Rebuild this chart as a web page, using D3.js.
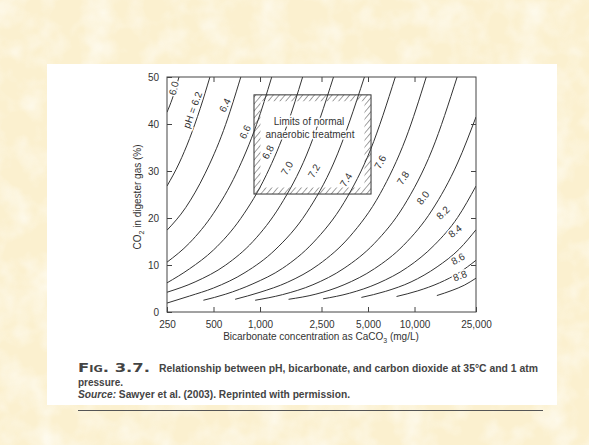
<!DOCTYPE html>
<html>
<head>
<meta charset="utf-8">
<script src="https://cdn.jsdelivr.net/npm/d3@7"></script>
<style>
  body { margin: 0; background: #fcf2d4; }
  svg { display: block; font-family: "Liberation Sans", Arial, sans-serif; }
</style>
</head>
<body>
<div id="chart"></div>
<script>
// axis ticks
var xTicks = [250, 500, 1000, 2500, 5000, 10000, 25000];
var xTickText = ["250", "500", "1,000", "2,500", "5,000", "10,000", "25,000"];
var yTicks = [0, 10, 20, 30, 40, 50];

// pH curve names, low to high
var phNames = ["6.0", "pH = 6.2", "6.4", "6.6", "6.8", "7.0", "7.2", "7.4",
               "7.6", "7.8", "8.0", "8.2", "8.4", "8.6", "8.8"];

// points: [bicarbonate mg/L, CO2 %]
var ph60 = [[250, 42.5], [270, 45.3], [299, 50]];
var ph62 = [[250, 26.8], [300, 31.7], [350, 36.9], [410, 43.3], [474, 50]];
var ph64 = [[250, 17.4], [330, 22.2], [440, 29.4], [580, 38.6], [751, 50]];
var ph66 = [[250, 10.6], [350, 14.7], [500, 21.0], [700, 29.4], [950, 39.9], [1191, 50]];
var ph68 = [[250, 6.2], [350, 9.2], [500, 13.2], [750, 19.9], [1100, 29.2], [1500, 39.8], [1887, 50]];
var ph70 = [[250, 4.2], [380, 6.4], [600, 10.0], [900, 15.0], [1350, 22.6], [2000, 33.4], [2990, 50]];
var ph72 = [[250, 1.9], [350, 3.4], [500, 5.1], [800, 8.4], [1250, 13.2], [2000, 21.1], [3000, 31.7], [4740, 50]];
var ph74 = [[430, 2.5], [600, 3.8], [900, 6.0], [1400, 9.3], [2200, 14.7], [3500, 23.3], [5200, 34.6], [7510, 50]];
var ph76 = [[690, 2.7], [1000, 4.2], [1500, 6.3], [2400, 10.1], [3800, 16.0], [6000, 25.2], [8800, 37.0], [11910, 50]];
var ph78 = [[930, 2.5], [1400, 3.7], [2200, 5.8], [3500, 9.3], [5500, 14.6], [8500, 22.5], [13000, 34.5], [18870, 50]];
var ph80 = [[1530, 2.7], [2300, 3.8], [3500, 5.8], [5500, 9.2], [8500, 14.2], [13000, 21.7], [19000, 31.7], [25000, 41.5]];
var ph82 = [[2560, 2.8], [3800, 4.0], [5800, 6.1], [9000, 9.5], [13500, 14.3], [19000, 20.1], [25000, 26.8]];
var ph84 = [[4530, 3.1], [6500, 4.4], [9500, 6.4], [14000, 9.6], [19500, 13.4], [25000, 17.5]];
var ph86 = [[7650, 3.3], [10500, 4.5], [14500, 6.2], [19500, 8.4], [25000, 11.0]];
var ph88 = [[13950, 3.5], [17500, 4.6], [21000, 5.7], [25000, 7.2]];

var phCurves = [ph60, ph62, ph64, ph66, ph68, ph70, ph72, ph74,
                ph76, ph78, ph80, ph82, ph84, ph86, ph88];

// box of normal anaerobic treatment
var limitsBicarb = [914, 5230];
var limitsCO2 = [25.1, 46.2];

var width = 589,
    height = 445;

var svg = d3.select("#chart").append("svg")
    .attr("width", width)
    .attr("height", height);

var defs = svg.append("defs");

// mottled paper behind the page
var paper = defs.append("filter").attr("id", "paper")
    .attr("x", 0).attr("y", 0).attr("width", 1).attr("height", 1);
paper.append("feTurbulence")
    .attr("type", "fractalNoise")
    .attr("baseFrequency", 0.035)
    .attr("numOctaves", 3)
    .attr("seed", 4);
paper.append("feColorMatrix")
    .attr("type", "matrix")
    .attr("values", "0 0 0 0 1  0 0 0 0 1  0 0 0 0 0.97  1.6 0 0 0 -0.62");

svg.append("rect")
    .attr("width", width).attr("height", height)
    .attr("fill", "#fbf0cf");
svg.append("rect")
    .attr("width", width).attr("height", height)
    .attr("filter", "url(#paper)")
    .attr("opacity", 0.8);

// white page card
svg.append("rect")
    .attr("x", 47).attr("y", 64)
    .attr("width", 510).attr("height", 341)
    .attr("fill", "#fff");

var x = d3.scaleLog()
    .domain([250, 25000])
    .range([167, 476]);

var y = d3.scaleLinear()
    .domain([0, 50])
    .range([312, 77]);

var ink = "#333";

defs.append("clipPath").attr("id", "plotclip")
  .append("rect")
    .attr("x", x.range()[0]).attr("y", y.range()[1])
    .attr("width", x.range()[1] - x.range()[0])
    .attr("height", y.range()[0] - y.range()[1]);

var hatch = defs.append("pattern")
    .attr("id", "hatch")
    .attr("patternUnits", "userSpaceOnUse")
    .attr("width", 4.5).attr("height", 4.5)
    .attr("patternTransform", "rotate(40)");
hatch.append("line")
    .attr("x1", 0).attr("y1", 0).attr("x2", 0).attr("y2", 4.5)
    .attr("stroke", "#444").attr("stroke-width", 1);

// hatched band of the limits box
var bx0 = x(limitsBicarb[0]), bx1 = x(limitsBicarb[1]),
    by0 = y(limitsCO2[1]), by1 = y(limitsCO2[0]),
    band = 6.5;

// pH curves
var line = d3.line()
    .x(function(d) { return x(d[0]); })
    .y(function(d) { return y(d[1]); })
    .curve(d3.curveMonotoneX);

svg.append("g")
    .attr("clip-path", "url(#plotclip)")
  .selectAll("path")
    .data(phCurves)
  .enter().append("path")
    .attr("d", line)
    .attr("fill", "none")
    .attr("stroke", ink)
    .attr("stroke-width", 1);

svg.append("path")
    .attr("d", "M" + bx0 + "," + by0 + "H" + bx1 + "V" + by1 + "H" + bx0 + "Z" +
               "M" + (bx0 + band) + "," + (by0 + band) + "V" + (by1 - band) +
               "H" + (bx1 - band) + "V" + (by0 + band) + "Z")
    .attr("fill", "url(#hatch)")
    .attr("fill-rule", "evenodd");

svg.append("rect")
    .attr("x", bx0).attr("y", by0)
    .attr("width", bx1 - bx0).attr("height", by1 - by0)
    .attr("fill", "none")
    .attr("stroke", ink)
    .attr("stroke-width", 1);

// curve labels: [bicarbonate, CO2, angle]
var labelAt = [[277, 47.6, -76], [366, 43, -70], [593, 44, -64], [800, 38.3, -64],
               [1127, 34, -62], [1496, 30.6, -60], [2234, 30, -60], [3600, 28.1, -58],
               [6000, 31.9, -62], [8430, 28.5, -58], [11340, 24.3, -52], [15270, 21.1, -45],
               [18270, 17.2, -38], [19100, 11.3, -28], [19680, 7.7, -20]];

svg.append("g")
  .selectAll("text")
    .data(phNames)
  .enter().append("text")
    .attr("transform", function(d, i) {
      var p = labelAt[i];
      return "translate(" + x(p[0]) + "," + y(p[1]) + ") rotate(" + p[2] + ")";
    })
    .attr("text-anchor", "middle")
    .attr("dy", "0.35em")
    .attr("font-size", 10)
    .attr("fill", ink)
    .attr("stroke", "#fff")
    .attr("stroke-width", 3)
    .attr("paint-order", "stroke")
    .text(function(d) { return d; });

// box text
[["Limits of normal", 309, 125], ["anaerobic treatment", 310, 138]].forEach(function(t) {
  svg.append("text")
      .attr("x", t[1]).attr("y", t[2])
      .attr("text-anchor", "middle")
      .attr("font-size", 10)
      .attr("fill", ink)
      .attr("stroke", "#fff")
      .attr("stroke-width", 3)
      .attr("paint-order", "stroke")
      .text(t[0]);
});

// frame
svg.append("rect")
    .attr("x", x.range()[0]).attr("y", y.range()[1])
    .attr("width", x.range()[1] - x.range()[0])
    .attr("height", y.range()[0] - y.range()[1])
    .attr("fill", "none")
    .attr("stroke", "#444")
    .attr("stroke-width", 1);

// axes, ticks drawn inward
var xAxis = d3.axisBottom(x)
    .tickValues(xTicks)
    .tickSizeInner(-5).tickSizeOuter(0)
    .tickPadding(9)
    .tickFormat(function(d, i) { return xTickText[i]; });

var gx = svg.append("g")
    .attr("transform", "translate(0," + y.range()[0] + ")")
    .call(xAxis);

var gxTop = svg.append("g")
    .attr("transform", "translate(0," + y.range()[1] + ")")
    .call(d3.axisTop(x).tickValues(xTicks.slice(1, -1))
      .tickSizeInner(-5).tickSizeOuter(0).tickFormat(""));

var gy = svg.append("g")
    .attr("transform", "translate(" + x.range()[0] + ",0)")
    .call(d3.axisLeft(y).tickValues(yTicks)
      .tickSizeInner(-5).tickSizeOuter(0).tickPadding(8));

var gyRight = svg.append("g")
    .attr("transform", "translate(" + x.range()[1] + ",0)")
    .call(d3.axisRight(y).tickValues(yTicks.slice(1, -1))
      .tickSizeInner(-5).tickSizeOuter(0).tickFormat(""));

[gx, gxTop, gy, gyRight].forEach(function(g) {
  g.select(".domain").remove();
  g.selectAll("line").attr("stroke", "#444");
  g.selectAll("text")
    .attr("font-family", "Liberation Sans, Arial, sans-serif")
    .attr("font-size", 10)
    .attr("fill", ink);
});

// axis titles
var xt = svg.append("text")
    .attr("x", 321).attr("y", 340)
    .attr("text-anchor", "middle")
    .attr("font-size", 10)
    .attr("fill", ink);
xt.append("tspan").text("Bicarbonate concentration as CaCO");
xt.append("tspan").attr("font-size", 7).attr("dy", 2.5).text("3");
xt.append("tspan").attr("dy", -2.5).text(" (mg/L)");

var yt = svg.append("text")
    .attr("transform", "translate(141,197) rotate(-90)")
    .attr("text-anchor", "middle")
    .attr("font-size", 10)
    .attr("fill", ink);
yt.append("tspan").text("CO");
yt.append("tspan").attr("font-size", 7).attr("dy", 2.5).text("2");
yt.append("tspan").attr("dy", -2.5).text(" in digester gas (%)");

// caption
svg.append("text")
    .attr("x", 78).attr("y", 372)
    .attr("font-family", "DejaVu Sans, sans-serif")
    .attr("font-size", 13)
    .attr("font-weight", "bold")
    .attr("font-variant", "small-caps")
    .attr("textLength", 72)
    .attr("lengthAdjust", "spacingAndGlyphs")
    .attr("fill", "#444")
    .text("Fig. 3.7.");

svg.append("text")
    .attr("x", 159).attr("y", 372)
    .attr("font-size", 10)
    .attr("font-weight", "bold")
    .attr("textLength", 379)
    .attr("lengthAdjust", "spacingAndGlyphs")
    .attr("fill", "#444")
    .text("Relationship between pH, bicarbonate, and carbon dioxide at 35\u00b0C and 1 atm");

svg.append("text")
    .attr("x", 78).attr("y", 386)
    .attr("font-size", 10)
    .attr("font-weight", "bold")
    .attr("fill", "#444")
    .text("pressure.");

var src = svg.append("text")
    .attr("x", 78).attr("y", 398)
    .attr("font-size", 10)
    .attr("font-weight", "bold")
    .attr("textLength", 272)
    .attr("lengthAdjust", "spacingAndGlyphs")
    .attr("fill", "#444");
src.append("tspan").attr("font-style", "italic").text("Source:");
src.append("tspan").text(" Sawyer et al. (2003). Reprinted with permission.");

svg.append("line")
    .attr("x1", 78).attr("x2", 543)
    .attr("y1", 410.5).attr("y2", 410.5)
    .attr("stroke", "#555")
    .attr("stroke-width", 1);
</script>
</body>
</html>
